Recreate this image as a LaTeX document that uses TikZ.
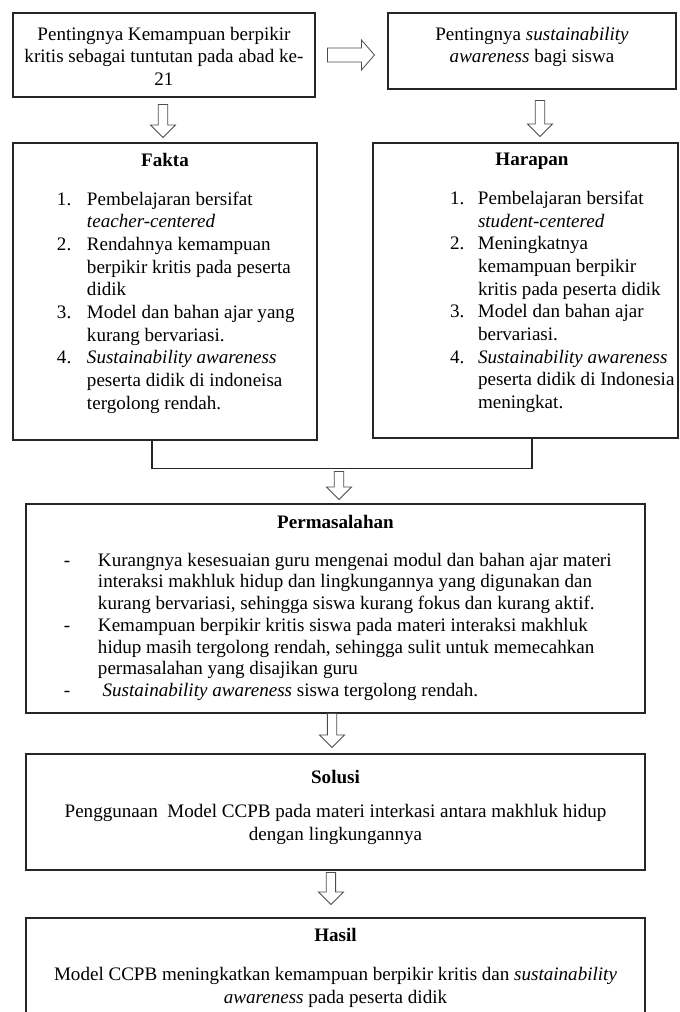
\documentclass[tikz,border=0pt]{standalone}
\usepackage{fontspec}
\setmainfont{Liberation Serif}
\usetikzlibrary{calc}

\tikzset{
  hollow down/.style={draw=black!70, line width=0.6pt, to path={
    let \p1=(\tikztostart), \p2=(\tikztotarget) in
    (\x1-3.5pt,\y1) -- (\x1-3.5pt,\y2+9.4pt) -- (\x1-9.4pt,\y2+9.4pt) -- (\x1,\y2)
    -- (\x1+9.4pt,\y2+9.4pt) -- (\x1+3.5pt,\y2+9.4pt) -- (\x1+3.5pt,\y1) -- cycle}},
  hollow right/.style={draw=black!70, line width=0.6pt, to path={
    let \p1=(\tikztostart), \p2=(\tikztotarget) in
    (\x1,\y1-5.25pt) -- (\x2-9.75pt,\y1-5.25pt) -- (\x2-9.75pt,\y1-11.25pt) -- (\x2,\y1)
    -- (\x2-9.75pt,\y1+11.25pt) -- (\x2-9.75pt,\y1+5.25pt) -- (\x1,\y1+5.25pt) -- cycle}}
}

\begin{document}
\begin{tikzpicture}[node distance=2cm,
    every node/.style={font=\fontsize{14.3pt}{17pt}\selectfont},
    box/.style={draw=black!85, line width=0.8pt, rectangle, inner sep=0pt},
    link/.style={draw=black!85, line width=0.8pt}]
        \useasboundingbox (-123pt,41.25pt) rectangle (386.25pt,-717.75pt);
        \clip (-123pt,41.25pt) rectangle (386.25pt,-717.75pt);
        % Nodes
        \node[box] (krit) {\parbox[c][63pt][t]{226.5pt}{\vspace*{10.5pt}\centering
            Pentingnya Kemampuan berpikir\\ kritis sebagai tuntutan pada abad ke-\\ 21}};
        \node[box, right of=krit, node distance=276pt, yshift=3pt] (sust) {\parbox[c][57pt][t]{216pt}{\vspace*{10.5pt}\centering
            Pentingnya \textit{sustainability}\\ \textit{awareness} bagi siswa}};
        \node[box, below of=krit, node distance=177.375pt, xshift=0.75pt] (fakta) {\parbox[c][222.75pt][t]{228pt}{\vspace*{7.5pt}\centering
            \textbf{Fakta}\par\vspace{12.2pt}\raggedright
            \hspace*{33pt}\begin{tabular}[t]{@{}p{22.5pt}@{}l@{}}
              1. & Pembelajaran bersifat\\
                 & \textit{teacher-centered}\\
              2. & Rendahnya kemampuan\\
                 & berpikir kritis pada peserta\\
                 & didik\\
              3. & Model dan bahan ajar yang\\
                 & kurang bervariasi.\\
              4. & \textit{Sustainability awareness}\\
                 & peserta didik di indoneisa\\
                 & tergolong rendah.
            \end{tabular}}};
        \node[box, right of=fakta, node distance=270.375pt, yshift=0.75pt] (harapan) {\parbox[c][221.25pt][t]{228.75pt}{\vspace*{7.5pt}\centering
            \hspace*{9.75pt}\textbf{Harapan}\par\vspace{12.2pt}\raggedright
            \hspace*{57.75pt}\begin{tabular}[t]{@{}p{21pt}@{}l@{}}
              1. & Pembelajaran bersifat\\
                 & \textit{student-centered}\\
              2. & Meningkatnya\\
                 & kemampuan berpikir\\
                 & kritis pada peserta didik\\
              3. & Model dan bahan ajar\\
                 & bervariasi.\\
              4. & \textit{Sustainability awareness}\\
                 & peserta didik di Indonesia\\
                 & meningkat.
            \end{tabular}}};
        \node[box, below of=fakta, node distance=237.75pt, xshift=127.875pt] (perm) {\parbox[c][156.75pt][t]{464.25pt}{\fontsize{14.3pt}{16.3pt}\selectfont\vspace*{8.2pt}\centering
            \textbf{Permasalahan}\par\vspace{12.2pt}\raggedright
            \hspace*{28.5pt}\begin{tabular}[t]{@{}p{25.5pt}@{}l@{}}
              - & Kurangnya kesesuaian guru mengenai modul dan bahan ajar materi\\
                & interaksi makhluk hidup dan lingkungannya yang digunakan dan\\
                & kurang bervariasi, sehingga siswa kurang fokus dan kurang aktif.\\
              - & Kemampuan berpikir kritis siswa pada materi interaksi makhluk\\
                & hidup masih tergolong rendah, sehingga sulit untuk memecahkan\\
                & permasalahan yang disajikan guru\\
              - & \hspace{3.5pt}\textit{Sustainability awareness} siswa tergolong rendah.
            \end{tabular}}};
        \node[box, below of=perm, node distance=152.625pt] (solusi) {\parbox[c][87pt][t]{464.25pt}{\vspace*{12pt}\centering
            \textbf{Solusi}\par\vspace{9pt}
            Penggunaan\ \ Model CCPB pada materi interkasi antara makhluk hidup\\ dengan lingkungannya}};
        \node[box, below of=solusi, node distance=132pt] (hasil) {\parbox[c][105pt][t]{464.25pt}{\vspace*{7.5pt}\centering
            \textbf{Hasil}\par\vspace{12.75pt}
            Model CCPB meningkatkan kemampuan berpikir kritis dan \textit{sustainability}\\ \textit{awareness} pada peserta didik}};
        % Joining line
        \coordinate (faktaFoot) at ([xshift=-9.75pt]fakta.south);
        \coordinate (harapanFoot) at ([xshift=4.875pt]harapan.south);
        \coordinate (joinL) at ([yshift=-21pt]faktaFoot);
        \coordinate (joinR) at (joinL -| harapanFoot);
        \coordinate (merge) at ($(joinL)!0.5!(joinR)$);
        \draw[link] (faktaFoot) -- (joinL) -- (joinR) -- (harapanFoot);
        % Arrows
        \draw[hollow right] ([xshift=9pt]krit.east) to ([xshift=-9.75pt]sust.west);
        \draw[hollow down] ([xshift=-0.75pt,yshift=-5.25pt]krit.south) to ([yshift=3.75pt]fakta.north);
        \draw[hollow down] ([xshift=6pt,yshift=-8.25pt]sust.south) to ([yshift=4.5pt]harapan.north);
        \draw[hollow down] ([xshift=-2.25pt,yshift=-2.25pt]merge) to ([yshift=3pt]perm.north);
        \draw[hollow down] ([xshift=-2.6pt]perm.south) to ([yshift=4.5pt]solusi.north);
        \draw[hollow down] ([xshift=-3.4pt,yshift=-1.5pt]solusi.south) to ([yshift=9.75pt]hasil.north);
    \end{tikzpicture}
\end{document}
